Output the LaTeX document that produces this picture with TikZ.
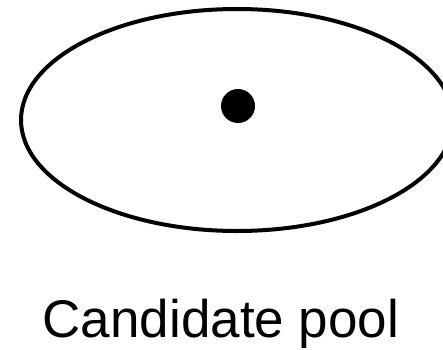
\documentclass[tikz,border=0pt]{standalone}
\usepackage{fontspec}
\setmainfont{Liberation Sans}
\begin{document}
\begin{tikzpicture}[x=1pt,y=1pt,
  pool/.style={draw=black,line width=4pt},
  member/.style={fill=black},
  caption/.style={font=\fontsize{53}{60}\selectfont,inner sep=0pt,anchor=base}]
\useasboundingbox (0,0) rectangle (443,349);
\clip (0,0) rectangle (443,349);
\draw[pool] (237,229) ellipse [x radius=216, y radius=111];
\fill[member] (238,243) circle [radius=17];
\node[caption] (lbl) at (221,12) {Candidate pool};
\end{tikzpicture}
\end{document}
